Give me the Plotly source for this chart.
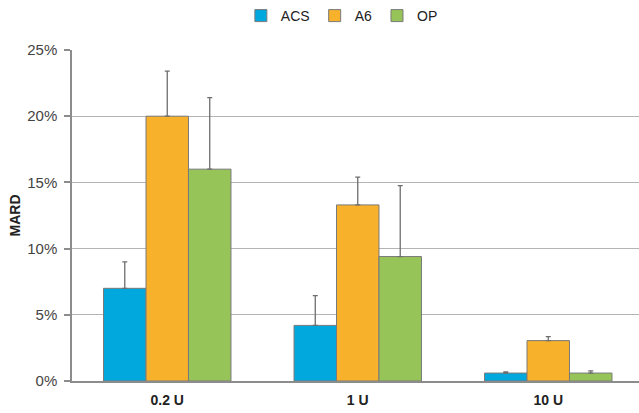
import plotly.graph_objects as go

# Mean absolute relative difference per insulin dose, with upper error bars
doses = ["0.2 U", "1 U", "10 U"]

acs = [7.0, 4.2, 0.6]
a6 = [20.0, 13.3, 3.05]
op = [16.0, 9.4, 0.6]

acs_err = [2.0, 2.25, 0.08]
a6_err = [3.4, 2.1, 0.3]
op_err = [5.4, 5.35, 0.17]

series = [
    ("ACS", acs, acs_err, "#00a8de"),
    ("A6", a6, a6_err, "#f8b12b"),
    ("OP", op, op_err, "#97c459"),
]

FONT = "Liberation Sans, Arial, sans-serif"
GRAY = "#8c8c8c"

fig = go.Figure()
for name, vals, errs, color in series:
    fig.add_trace(go.Bar(
        name=name,
        x=doses,
        y=vals,
        marker=dict(color=color, line=dict(color="#7a7a7a", width=1)),
        error_y=dict(
            type="data",
            symmetric=False,
            array=errs,
            arrayminus=[0] * len(errs),
            color="#6e6e6e",
            thickness=1.3,
            width=2.5,
        ),
    ))

fig.update_layout(
    width=639,
    height=413,
    margin=dict(l=72, r=0, t=50, b=32),
    paper_bgcolor="white",
    plot_bgcolor="white",
    barmode="group",
    bargap=0.331,
    bargroupgap=0,
    font=dict(family=FONT, size=14, color="#333333"),
    legend=dict(
        orientation="h",
        xref="container",
        yref="container",
        x=0.535,
        xanchor="center",
        y=1.0,
        yanchor="top",
        font=dict(size=14, color="#222222"),
        itemwidth=30,
        tracegroupgap=0,
    ),
    showlegend=True,
)

fig.update_xaxes(
    range=[-0.5, -0.5 + 567 / 190.5],
    showline=True,
    linecolor=GRAY,
    linewidth=1.5,
    ticks="",
    ticklabelstandoff=5,
    tickfont=dict(family=FONT, size=14, color="#222222", weight="bold"),
    showgrid=False,
    zeroline=False,
)

fig.update_yaxes(
    range=[0, 25],
    dtick=5,
    ticksuffix="%",
    showline=True,
    linecolor=GRAY,
    linewidth=1.5,
    ticks="outside",
    ticklen=6,
    tickcolor=GRAY,
    tickwidth=1.5,
    ticklabelstandoff=4,
    tickfont=dict(family=FONT, size=15, color="#444444"),
    showgrid=True,
    gridcolor="#b4b4b4",
    gridwidth=1.3,
    zeroline=False,
    title=dict(text="<b>MARD</b>", font=dict(family=FONT, size=14, color="#222222"), standoff=3),
)

fig.write_html("out.html")
